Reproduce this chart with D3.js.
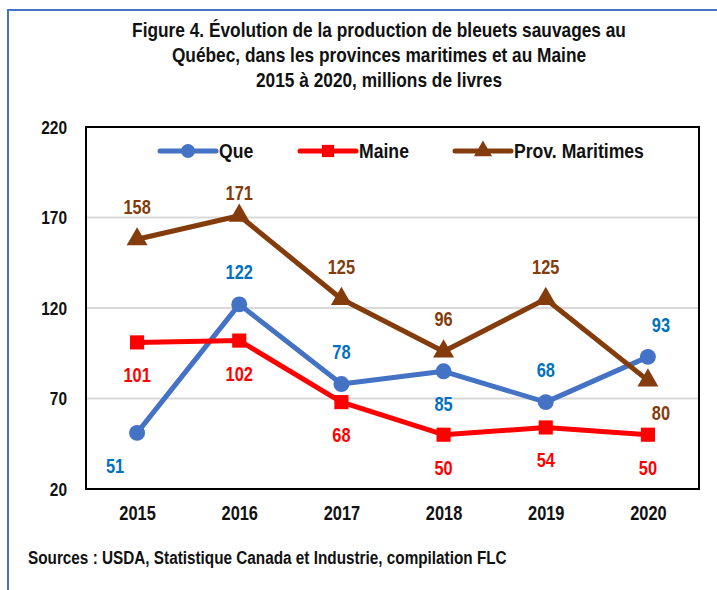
<!DOCTYPE html>
<html>
<head>
<meta charset="utf-8">
<script src="https://cdn.jsdelivr.net/npm/d3@7"></script>
<style>
  body { margin: 0; background: #fff; }
  svg { display: block; font-family: "Liberation Sans", Arial, sans-serif; font-weight: bold; }
</style>
</head>
<body>
<svg id="chart" width="717" height="590"></svg>
<script>
// donnees (millions de livres)
var years = ['2015', '2016', '2017', '2018', '2019', '2020'];
var que = [51, 122, 78, 85, 68, 93];
var maine = [101, 102, 68, 50, 54, 50];
var maritimes = [158, 171, 125, 96, 125, 80];
var yTicks = [20, 70, 120, 170, 220];

var titleLines = [
  'Figure 4. Évolution de la production de bleuets sauvages au',
  'Québec, dans les provinces maritimes et au Maine',
  '2015 à 2020, millions de livres'
];
var source = 'Sources : USDA, Statistique Canada et Industrie, compilation FLC';

// placement des etiquettes (au-dessus / en dessous)
var quePos = ['bl', 'a', 'a', 'b', 'a', 'ar'];
var mainePos = ['b', 'b', 'b', 'b', 'b', 'b'];
var maritimesPos = ['a', 'al', 'a', 'a', 'a', 'br'];

var series = [
  { name: 'Que', values: que, color: '#4472C4', label: '#0070C0', pos: quePos, shape: d3.symbolCircle, size: 200 },
  { name: 'Maine', values: maine, color: '#FF0000', label: '#FF0000', pos: mainePos, shape: d3.symbolSquare, size: 200 },
  { name: 'Prov. Maritimes', values: maritimes, color: '#843C0C', label: '#843C0C', pos: maritimesPos, shape: d3.symbolTriangle, size: 190 }
];

// pas de police etroite : on comprime le texte
function narrow(k) {
  return function (sel) {
    sel.attr('transform', function () {
      var tx = +this.getAttribute('x') || 0;
      return 'translate(' + tx + ',0) scale(' + k + ',1) translate(' + (-tx) + ',0)';
    });
  };
}

var svg = d3.select('#chart');

// cadre bleu
svg.append('rect')
  .attr('x', 8).attr('y', 10)
  .attr('width', 760).attr('height', 640)
  .attr('fill', 'none')
  .attr('stroke', '#4472C4')
  .attr('stroke-width', 2);

// titre
svg.append('g').selectAll('text')
  .data(titleLines)
  .enter().append('text')
  .attr('x', 379)
  .attr('y', function (d, i) { return 37 + i * 25; })
  .attr('text-anchor', 'middle')
  .attr('font-size', 20)
  .attr('fill', '#111')
  .text(function (d) { return d; })
  .call(narrow(0.865));

var pLeft = 86, pRight = 699, pTop = 127, pBottom = 489;

var x = d3.scalePoint().domain(years).range([pLeft, pRight]).padding(0.5);
var y = d3.scaleLinear().domain([20, 220]).range([pBottom, pTop]);

// grille
svg.append('g').selectAll('line')
  .data(yTicks.slice(1, -1))
  .enter().append('line')
  .attr('x1', pLeft).attr('x2', pRight)
  .attr('y1', function (d) { return y(d); })
  .attr('y2', function (d) { return y(d); })
  .attr('stroke', '#d9d9d9')
  .attr('stroke-width', 2);

// axes
var yAxis = svg.append('g')
  .attr('transform', 'translate(' + (pLeft - 19) + ',0)')
  .call(d3.axisLeft(y).tickValues(yTicks).tickSize(0).tickPadding(0));
yAxis.select('.domain').remove();
yAxis.selectAll('text').attr('font-size', 18).attr('fill', '#111').attr('font-family', null).attr('dy', '0.35em').call(narrow(0.86));

var xAxis = svg.append('g')
  .attr('transform', 'translate(0,' + (pBottom + 17) + ')')
  .call(d3.axisBottom(x).tickSize(0).tickPadding(0));
xAxis.select('.domain').remove();
xAxis.selectAll('text').attr('font-size', 20).attr('fill', '#111').attr('font-family', null).attr('dy', '0.71em').call(narrow(0.82));

// cadre du graphique
svg.append('rect')
  .attr('x', pLeft).attr('y', pTop)
  .attr('width', pRight - pLeft).attr('height', pBottom - pTop)
  .attr('fill', 'none')
  .attr('stroke', '#000')
  .attr('stroke-width', 2);

var line = d3.line()
  .x(function (d, i) { return x(years[i]); })
  .y(function (d) { return y(d); });

series.forEach(function (s) {
  var g = svg.append('g');
  g.append('path')
    .attr('d', line(s.values))
    .attr('fill', 'none')
    .attr('stroke', s.color)
    .attr('stroke-width', 5)
    .attr('stroke-linejoin', 'round');
  g.selectAll('path.mk')
    .data(s.values)
    .enter().append('path')
    .attr('class', 'mk')
    .attr('d', d3.symbol().type(s.shape).size(s.size))
    .attr('transform', function (d, i) { return 'translate(' + x(years[i]) + ',' + y(d) + ')'; })
    .attr('fill', s.color);
  g.selectAll('text')
    .data(s.values)
    .enter().append('text')
    .attr('x', function (d, i) {
      var p = s.pos[i];
      var dx = p === 'bl' ? -22 : (p === 'ar' || p === 'br') ? 13 : 0;
      return x(years[i]) + dx;
    })
    .attr('y', function (d, i) {
      var p = s.pos[i];
      if (p === 'al') return y(d) - 23;
      return y(d) + (p.charAt(0) === 'a' ? -32 : 33);
    })
    .attr('dy', '0.35em')
    .attr('text-anchor', 'middle')
    .attr('font-size', 20)
    .attr('fill', s.label)
    .text(function (d) { return d; })
    .call(narrow(0.82));
});

// legende
var legendX = [160, 300, 455];
var legend = svg.append('g').selectAll('g')
  .data(series)
  .enter().append('g')
  .attr('transform', function (d, i) { return 'translate(' + legendX[i] + ',151)'; });
legend.append('line')
  .attr('x1', 0).attr('x2', 56)
  .attr('stroke', function (d) { return d.color; })
  .attr('stroke-width', 5)
  .attr('stroke-linecap', 'round');
legend.append('path')
  .attr('d', function (d) { return d3.symbol().type(d.shape).size(d.size * 0.75)(); })
  .attr('transform', 'translate(28,0)')
  .attr('fill', function (d) { return d.color; });
legend.append('text')
  .attr('x', 59)
  .attr('dy', '0.35em')
  .attr('font-size', 20.5)
  .attr('fill', '#111')
  .text(function (d) { return d.name; })
  .call(narrow(0.86));

// source
svg.append('text')
  .attr('x', 28).attr('y', 564)
  .attr('font-size', 17.8)
  .attr('fill', '#111')
  .text(source)
  .call(narrow(0.86));
</script>
</body>
</html>
